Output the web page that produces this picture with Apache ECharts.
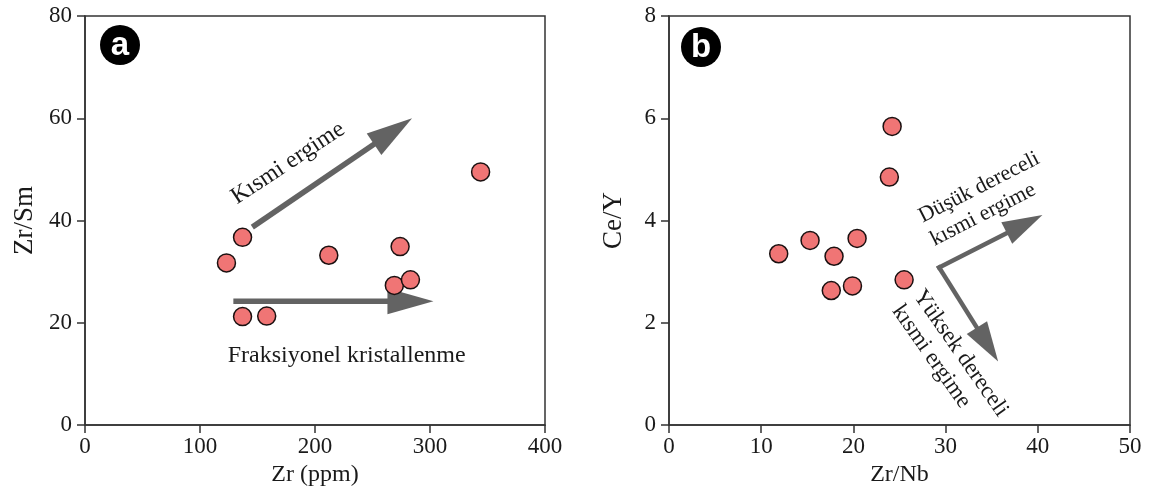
<!DOCTYPE html>
<html><head><meta charset="utf-8">
<script src="https://cdn.jsdelivr.net/npm/echarts@6/dist/echarts.min.js"></script>
<style>html,body{margin:0;padding:0;background:#fff}#c{width:1156px;height:496px}</style>
</head><body><div id="c"></div>
<script>
// ---- data (panel a) ----
const zrPpm = [123, 137, 137, 158, 212, 274, 269, 283, 344];
const zrSm  = [31.7, 36.7, 21.2, 21.3, 33.2, 34.9, 27.3, 28.4, 49.5];
// ---- data (panel b) ----
const zrNb  = [11.9, 15.3, 17.9, 20.4, 17.6, 19.9, 25.5, 23.9, 24.2];
const ceY   = [3.35, 3.61, 3.30, 3.65, 2.63, 2.72, 2.84, 4.85, 5.84];
// ---- axis ranges [min, max, interval] ----
const axisAX = [0, 400, 100];
const axisAY = [0, 80, 20];
const axisBX = [0, 50, 10];
const axisBY = [0, 8, 2];
// ---- arrows [x0, y0, x1(tip), y1(tip)] in data units ----
const arrowsA = [[145.5, 38.7, 284.4, 60.0], [129, 24.2, 303, 24.2]];
const arrowsB = [[29.3, 3.08, 40.5, 4.11], [29.3, 3.08, 35.7, 1.24]];
// ---- annotations (anchor in data units) ----
const annotAText = ['Kısmi ergime', 'Fraksiyonel kristallenme'];
const annotAPos  = [[176.5, 51.2], [227.5, 13.5]];
const annotAAngle = [33.5, 0];
const annotBText = ['Düşük dereceli\nkısmi ergime', 'Yüksek dereceli\nkısmi ergime'];
const annotBPos  = [[27.87, 3.83], [25.85, 2.45]];
const annotBAngle = [27, -55];
const annotBSize = [22, 23];
const panelLabels = ['a', 'b'];

const SERIF = '"Liberation Serif", "DejaVu Serif", serif';
const INK = '#1a1a1a';
const FRAME = '#333';
const ARROW = '#636363';

function xAxisCfg(grid, r, name) {
  return {
    type: 'value', gridIndex: grid, min: r[0], max: r[1], interval: r[2],
    name: name, nameLocation: 'middle', nameGap: 37,
    nameTextStyle: { fontFamily: SERIF, fontSize: 24, color: INK },
    axisLine: { show: true, onZero: false, lineStyle: { color: FRAME, width: 1.5 } },
    axisTick: { show: true, inside: false, length: 8, lineStyle: { color: FRAME, width: 1.5 } },
    axisLabel: { margin: 10, fontFamily: SERIF, fontSize: 23, color: INK, showMinLabel: true, showMaxLabel: true },
    splitLine: { show: false }
  };
}
function yAxisCfg(grid, r, name, gap) {
  return {
    type: 'value', gridIndex: grid, min: r[0], max: r[1], interval: r[2],
    name: name, nameLocation: 'middle', nameGap: gap,
    nameTextStyle: { fontFamily: SERIF, fontSize: 27, color: INK },
    axisLine: { show: true, onZero: false, lineStyle: { color: FRAME, width: 1.5 } },
    axisTick: { show: true, inside: false, length: 8, lineStyle: { color: FRAME, width: 1.5 } },
    axisLabel: { margin: 13, fontFamily: SERIF, fontSize: 23, color: INK, showMinLabel: true, showMaxLabel: true },
    splitLine: { show: false }
  };
}
function arrowSeries(grid, arr, lw, hl, hw, cap) {
  return {
    type: 'custom', xAxisIndex: grid, yAxisIndex: grid, clip: false, z: 2, silent: true,
    data: arr, encode: { x: [0, 2], y: [1, 3] },
    renderItem: function (params, api) {
      const a = api.coord([api.value(0), api.value(1)]);
      const b = api.coord([api.value(2), api.value(3)]);
      const dx = b[0] - a[0], dy = b[1] - a[1], L = Math.hypot(dx, dy);
      const ux = dx / L, uy = dy / L;
      const bx = b[0] - ux * hl, by = b[1] - uy * hl;
      return { type: 'group', children: [
        { type: 'line', shape: { x1: a[0], y1: a[1], x2: bx + ux * 3, y2: by + uy * 3 },
          style: { stroke: ARROW, lineWidth: lw, lineCap: cap } },
        { type: 'polygon', shape: { points: [[b[0], b[1]], [bx - uy * hw, by + ux * hw], [bx + uy * hw, by - ux * hw]] },
          style: { fill: ARROW } }
      ] };
    }
  };
}
function textSeries(grid, pos, texts, angles, sizes, align, lh) {
  return {
    type: 'custom', xAxisIndex: grid, yAxisIndex: grid, clip: false, z: 3, silent: true,
    data: pos,
    renderItem: function (params, api) {
      const p = api.coord([api.value(0), api.value(1)]);
      const i = params.dataIndex;
      return { type: 'text', x: p[0], y: p[1], rotation: angles[i] * Math.PI / 180,
        style: { text: texts[i], fontFamily: SERIF, fontSize: sizes[i], fill: INK,
                 align: align, verticalAlign: 'middle', lineHeight: lh } };
    }
  };
}
function scatterSeries(grid, xs, ys) {
  return {
    type: 'scatter', xAxisIndex: grid, yAxisIndex: grid, z: 4,
    data: xs.map((x, i) => [x, ys[i]]),
    symbol: 'circle', symbolSize: 18,
    itemStyle: { color: '#F07575', borderColor: '#1a1010', borderWidth: 1.5, opacity: 1 }
  };
}
function badge(cx, cy, letter) {
  return { type: 'group', children: [
    { type: 'circle', shape: { cx: cx, cy: cy, r: 20 }, style: { fill: '#000' } },
    { type: 'text', x: cx, y: cy + 1, style: { text: letter, fill: '#fff', fontFamily: '"Liberation Sans", Arial, sans-serif',
      fontWeight: 'bold', fontSize: 33, align: 'center', verticalAlign: 'middle' } }
  ] };
}

const chart = echarts.init(document.getElementById('c'), null, { renderer: 'canvas' });
chart.setOption({
  backgroundColor: '#fff',
  animation: false,
  grid: [
    { left: 85, right: 611, top: 16, bottom: 71, show: true, borderColor: FRAME, borderWidth: 1.5, backgroundColor: 'transparent' },
    { left: 669, right: 26, top: 16, bottom: 71, show: true, borderColor: FRAME, borderWidth: 1.5, backgroundColor: 'transparent' }
  ],
  xAxis: [xAxisCfg(0, axisAX, 'Zr (ppm)'), xAxisCfg(1, axisBX, 'Zr/Nb')],
  yAxis: [yAxisCfg(0, axisAY, 'Zr/Sm', 47), yAxisCfg(1, axisBY, 'Ce/Y', 42)],
  series: [
    arrowSeries(0, arrowsA, 5.5, 46, 13, 'butt'),
    arrowSeries(1, arrowsB, 4.5, 40, 12, 'square'),
    textSeries(0, annotAPos, annotAText, annotAAngle, [24, 24], 'center', 27),
    textSeries(1, annotBPos, annotBText, annotBAngle, annotBSize, 'left', 26),
    scatterSeries(0, zrPpm, zrSm),
    scatterSeries(1, zrNb, ceY)
  ],
  graphic: [badge(120, 45, panelLabels[0]), badge(701, 47, panelLabels[1])]
});
</script></body></html>
